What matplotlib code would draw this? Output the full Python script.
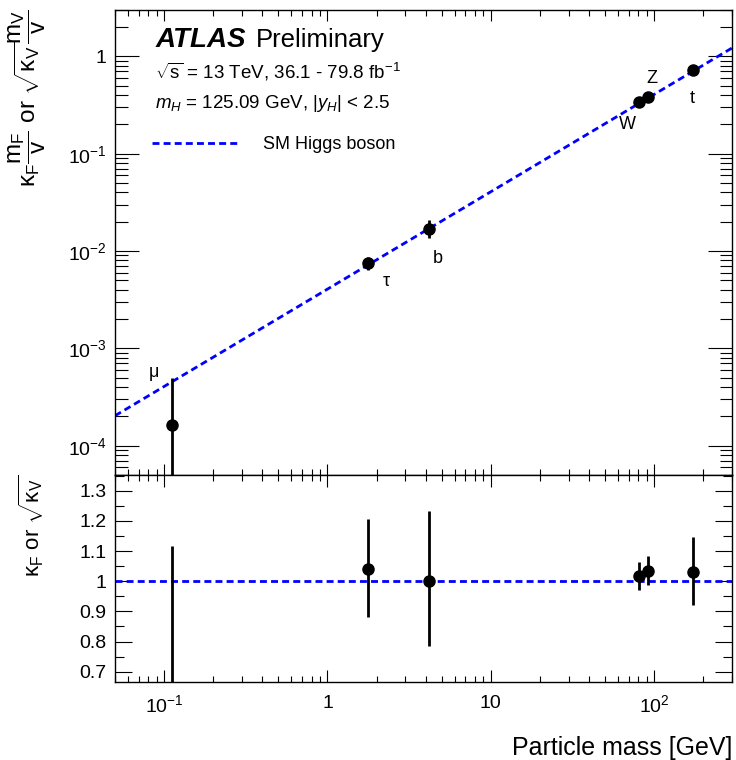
import numpy as np
import matplotlib
matplotlib.use("Agg")
import matplotlib.pyplot as plt
from matplotlib.ticker import LogLocator, MultipleLocator, FixedLocator, FuncFormatter, NullFormatter

plt.rcParams['font.family'] = ['Liberation Sans', 'DejaVu Sans']
plt.rcParams['mathtext.fontset'] = 'custom'
plt.rcParams['mathtext.rm'] = 'Liberation Sans'
plt.rcParams['mathtext.it'] = 'Liberation Sans:italic'
plt.rcParams['mathtext.bf'] = 'Liberation Sans:bold'

# --------------------------------------------------
# data
# --------------------------------------------------
particles = ['μ', 'τ', 'b', 'W', 'Z', 't']
mass = [0.111, 1.777, 4.18, 80.4, 91.2, 172.5]

# upper panel: kappa * m / v
coupling = [1.63e-4, 7.55e-3, 0.0170, 0.337, 0.385, 0.730]
coupling_lo = [1e-6, 6.4e-3, 0.0135, 0.322, 0.367, 0.653]
coupling_hi = [5.0e-4, 8.75e-3, 0.0210, 0.353, 0.404, 0.812]

# lower panel: kappa
kappa = [0.38, 1.039, 1.000, 1.018, 1.033, 1.029]
kappa_lo = [0.0, 0.883, 0.785, 0.972, 0.986, 0.921]
kappa_hi = [1.116, 1.205, 1.234, 1.065, 1.085, 1.145]

# SM expectation endpoints
sm_mass = [0.05, 300.0]
sm_coupling = [2.03e-4, 1.218]
sm_kappa = [1.0, 1.0]

# label offsets (points) for particle names
label_dx = [-13, 13, 6.5, -8, 3, -0.7]
label_dy = [38, -13.5, -21.5, -16, 13, -21]

xlim = (0.05, 300)
ylim_top = (5e-5, 3.0)
ylim_bot = (0.666, 1.352)

# --------------------------------------------------
fig = plt.figure(figsize=(7.36, 7.6), dpi=100)
ax1 = fig.add_axes([0.1562, 0.375, 0.8384, 0.612])
ax2 = fig.add_axes([0.1562, 0.1026, 0.8384, 0.2724])

blue = '#0000ff'
dash = (0, (2.5, 1.5))


def asym(v, lo, hi):
    v = np.array(v)
    return [v - np.array(lo), np.array(hi) - v]


def fmt_log(x, pos):
    e = int(round(np.log10(x)))
    if e == 0:
        return '1'
    if e == 1:
        return '10'
    return r'$10^{%d}$' % e


# upper panel
ax1.plot(sm_mass, sm_coupling, color=blue, lw=2, ls=dash,
         label='SM Higgs boson')
ax1.errorbar(mass, coupling, yerr=asym(coupling, coupling_lo, coupling_hi),
             fmt='o', color='black', ms=8, elinewidth=2, capsize=0, zorder=5)
for name, m, c, dx, dy in zip(particles, mass, coupling, label_dx, label_dy):
    ax1.annotate(name, (m, c), xytext=(dx, dy), textcoords='offset points',
                 ha='center', va='center', fontsize=13)

ax1.set_xscale('log')
ax1.set_yscale('log')
ax1.set_xlim(*xlim)
ax1.set_ylim(*ylim_top)
ax1.yaxis.set_major_locator(LogLocator(base=10, numticks=20))
ax1.yaxis.set_minor_locator(LogLocator(base=10, subs=np.arange(2, 10), numticks=20))
ax1.yaxis.set_major_formatter(FuncFormatter(fmt_log))
ax1.yaxis.set_minor_formatter(NullFormatter())
ax1.xaxis.set_major_locator(LogLocator(base=10, numticks=20))
ax1.xaxis.set_minor_locator(LogLocator(base=10, subs=np.arange(2, 10), numticks=20))
ax1.xaxis.set_major_formatter(NullFormatter())
ax1.xaxis.set_minor_formatter(NullFormatter())
ax1.tick_params(axis='y', which='major', direction='in', length=17, width=0.8,
                left=True, right=True, labelsize=14, pad=6)
ax1.tick_params(axis='y', which='minor', direction='in', length=9, width=0.8,
                left=True, right=True)
ax1.tick_params(axis='x', which='major', direction='in', length=8, width=0.8,
                top=True, bottom=True)
ax1.tick_params(axis='x', which='minor', direction='in', length=4.3, width=0.8,
                top=True, bottom=True)

ax1.set_ylabel(r'κ$_{\rm F}$$\dfrac{\rm m_F}{\rm v}$ or $\sqrt{\rm κ_V}$$\dfrac{\rm m_V}{\rm v}$',
               fontsize=17.5, loc='top')
ax1.yaxis.set_label_coords(-0.108, 1.0)

ax1.text(0.065, 0.92, 'ATLAS', transform=ax1.transAxes, fontsize=20,
         fontweight='bold', fontstyle='italic', va='baseline')
ax1.text(0.228, 0.92, 'Preliminary', transform=ax1.transAxes, fontsize=18.5,
         va='baseline')
ax1.text(0.065, 0.852, r'$\sqrt{\rm s}$ = 13 TeV, 36.1 - 79.8 fb$^{-1}$',
         transform=ax1.transAxes, fontsize=13.5, va='baseline')
ax1.text(0.065, 0.79, r'$m_H$ = 125.09 GeV, $|y_H|$ < 2.5',
         transform=ax1.transAxes, fontsize=13.5, va='baseline')
ax1.legend(loc='center left', bbox_to_anchor=(0.060, 0.7097), frameon=False,
           fontsize=13, handlelength=4.85, handletextpad=1.3,
           borderpad=0, borderaxespad=0)

# lower panel
ax2.plot(sm_mass, sm_kappa, color=blue, lw=2, ls=dash)
ax2.errorbar(mass, kappa, yerr=asym(kappa, kappa_lo, kappa_hi),
             fmt='o', color='black', ms=8, elinewidth=2, capsize=0, zorder=5)
ax2.set_xscale('log')
ax2.set_xlim(*xlim)
ax2.set_ylim(*ylim_bot)
ax2.yaxis.set_major_locator(FixedLocator([0.7, 0.8, 0.9, 1.0, 1.1, 1.2, 1.3]))
ax2.yaxis.set_minor_locator(MultipleLocator(0.05))
ax2.yaxis.set_major_formatter(FuncFormatter(lambda v, p: ('%.1f' % v).rstrip('0').rstrip('.')))
ax2.xaxis.set_major_locator(LogLocator(base=10, numticks=20))
ax2.xaxis.set_minor_locator(LogLocator(base=10, subs=np.arange(2, 10), numticks=20))
ax2.xaxis.set_major_formatter(FuncFormatter(fmt_log))
ax2.xaxis.set_minor_formatter(NullFormatter())
ax2.tick_params(axis='y', which='major', direction='in', length=12, width=0.8,
                left=True, right=True, labelsize=14, pad=6)
ax2.tick_params(axis='y', which='minor', direction='in', length=6.5, width=0.8,
                left=True, right=True)
ax2.tick_params(axis='x', which='major', direction='in', length=8.6, width=0.8,
                top=True, bottom=True, labelsize=14, pad=9)
ax2.tick_params(axis='x', which='minor', direction='in', length=4.3, width=0.8,
                top=True, bottom=True)
ax2.set_ylabel(r'κ$_{\rm F}$ or $\sqrt{\rm κ_V}$', fontsize=16, loc='top')
ax2.yaxis.set_label_coords(-0.112, 1.0)
ax2.set_xlabel('Particle mass [GeV]', fontsize=18, loc='right')
ax2.xaxis.set_label_coords(1.0, -0.26)

for a in (ax1, ax2):
    for s in a.spines.values():
        s.set_linewidth(1.0)

fig.savefig('out.png', dpi=100)
